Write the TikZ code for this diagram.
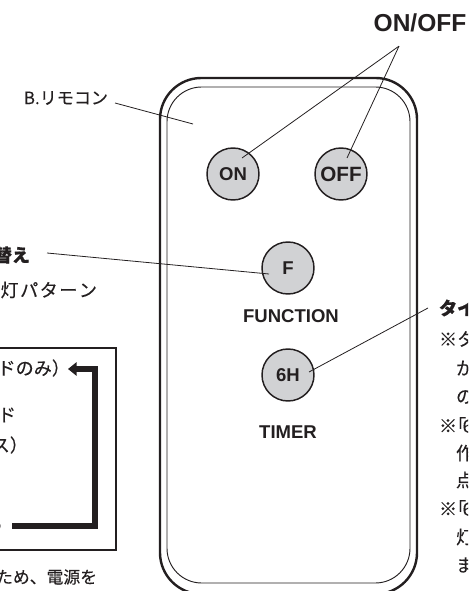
\documentclass[tikz,border=0pt]{standalone}
\usepackage{fontspec}
\usetikzlibrary{arrows.meta}
\setmainfont{Liberation Sans}
\newfontfamily\cjk[Kerning=Off,FakeBold=0.2,BoldFeatures={FakeBold=0.6}]{Noto Sans CJK JP}
\newfontfamily\cjkwide[Kerning=Off,FakeBold=0.2,LetterSpace=8]{Noto Sans CJK JP}
\definecolor{ink}{HTML}{231F20}
\definecolor{btn}{HTML}{D1D2D4}
\tikzset{
  x=0.75pt,y=-0.75pt,
  every node/.style={inner sep=0pt,outer sep=0pt,text=ink},
  jp/.style={font=\cjk\fontsize{13.6}{15}\selectfont},
  jpb/.style={font=\cjk\bfseries\fontsize{13.6}{15}\selectfont},
  btnlabel/.style={font=\bfseries\fontsize{13.9}{15}\selectfont},
  button/.style={circle,draw=ink,fill=btn,line width=1.1pt,minimum size=39pt,btnlabel},
  leader/.style={draw=ink,line width=0.6pt},
}
\begin{document}
\begin{tikzpicture}
\clip (0,0) rectangle (468,591);
% remote body
\draw[ink,line width=1.8pt,rounded corners=31pt] (160,78) rectangle (417,594);
\draw[ink,line width=0.7pt,rounded corners=26pt] (167,87) rectangle (410,583);
% buttons
\node[button] (on) at (233,174) {ON};
\node[button] (off) at (341,174) {\fontsize{15.5}{16}\selectfont OFF};
\node[button] (f) at (288,268) {F};
\node[button] (six) at (288,375) {6H};
% labels
\node[btnlabel] (function) at (291,316) {FUNCTION};
\node[btnlabel] (timer) at (288,432) {TIMER};
\node[font=\bfseries\fontsize{18.4}{20}\selectfont] (onoff) at (420,23) {ON/OFF};
\node[jp,anchor=east,font=\cjk\fontsize{12.8}{14}\selectfont] (remote) at (108,98) {B.リモコン};
\node[jpb,anchor=east] (swap) at (30,255) {替え};
\node[jpb,anchor=west] (timerjp) at (439,308) {タイ};
\coordinate (remotetip) at (193,124);
% left text
\node[anchor=east,font=\cjkwide\fontsize{13.6}{15}\selectfont] (t1) at (97,290) {灯パターン};
\node[jp,anchor=east] (t2) at (70,368) {ドのみ）};
\node[jp,anchor=east] (t3) at (16,415) {ド};
\node[jp,anchor=east] (t4) at (28,445) {ス）};
\node[jp,anchor=east] (t5) at (13,526) {）};
\node[anchor=east,font=\cjk\fontsize{12.6}{14}\selectfont] (t6) at (97,577) {ため、電源を};
% right text
\node[jp,anchor=west] (r1) at (439,339) {※タ};
\node[jp,anchor=west] (r2) at (456,368) {か};
\node[jp,anchor=west] (r3) at (456,397) {の};
\node[jp,anchor=west] (r4) at (439,425) {※\hspace{-0.5em}「\hspace{-0.2em}6};
\node[jp,anchor=west] (r5) at (456,453) {作};
\node[jp,anchor=west] (r6) at (456,480) {点};
\node[jp,anchor=west] (r7) at (439,508) {※\hspace{-0.5em}「\hspace{-0.2em}6};
\node[jp,anchor=west] (r8) at (456,537) {灯};
\node[jp,anchor=west] (r9) at (456,565) {ま};
% mode box
\node[draw=ink,line width=1.1pt,minimum width=126pt,anchor=north east,minimum height=151.5pt] (box) at (116,348) {};
\coordinate (loopstart) at (12,526);
\coordinate (loopcorner) at (95,369);
\coordinate (looptip) at (68,369);
\draw[ink,line width=4.9pt,-{Triangle[length=6.5pt,width=10pt]}] (loopstart) -| (loopcorner) -- (looptip);
% leaders
\draw[leader] (remote.east)++(7,5) -- (remotetip);
\draw[leader] ([shift={(-21,14)}]onoff.south) -- ([shift={(9,-16)}]on.center);
\draw[leader] ([shift={(-21,14)}]onoff.south) -- ([shift={(6,-16)}]off.center);
\draw[leader] ([shift={(17,-2)}]swap.east) -- ([shift={(-19,6)}]f.center);
\draw[leader] ([shift={(21,-3)}]six.center) -- ([shift={(-11,0)}]timerjp.west);
\end{tikzpicture}
\end{document}
